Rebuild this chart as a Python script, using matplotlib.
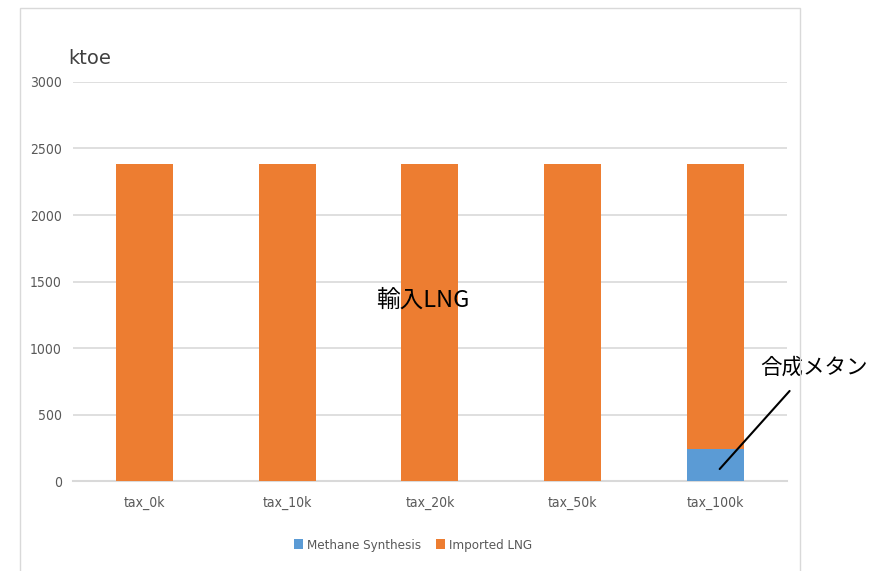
import matplotlib
matplotlib.use("Agg")
import matplotlib.pyplot as plt
from matplotlib.patches import Rectangle

plt.rcParams['font.family'] = ['Noto Sans CJK JP', 'DejaVu Sans']

# data (ktoe)
scenarios = ['tax_0k', 'tax_10k', 'tax_20k', 'tax_50k', 'tax_100k']
methane_synthesis = [0, 0, 0, 0, 240]
imported_lng = [2383, 2383, 2383, 2383, 2143]

blue = '#5B9BD5'
orange = '#ED7D31'
tick_col = '#595959'

fig = plt.figure(figsize=(8.9, 5.71), dpi=100)
ax = fig.add_axes([0.082, 0.1576, 0.802, 0.6988])

# chart border like the office chart frame
fig.patches.append(Rectangle((20 / 890, -0.01), 780 / 890, 1 - 8 / 571 + 0.01,
                             transform=fig.transFigure, fill=False,
                             edgecolor='#D9D9D9', linewidth=1.0))

x = range(len(scenarios))
ax.bar(x, methane_synthesis, width=0.4, color=blue, label='Methane Synthesis', zorder=3)
ax.bar(x, imported_lng, width=0.4, bottom=methane_synthesis, color=orange,
       label='Imported LNG', zorder=3)

ax.set_xlim(-0.5, len(scenarios) - 0.5)
ax.set_ylim(0, 3000)
ax.set_yticks(range(0, 3001, 500))
ax.set_xticks(list(x))
ax.set_xticklabels(scenarios)
ax.tick_params(axis='both', length=0, colors=tick_col, labelsize=10)
ax.tick_params(axis='x', pad=11)
ax.tick_params(axis='y', pad=8)
for lab in ax.get_xticklabels() + ax.get_yticklabels():
    lab.set_fontfamily(['DejaVu Sans'])
    lab.set_fontstretch('condensed')

ax.grid(axis='y', color='#D9D9D9', linewidth=1.2, zorder=0)
for s in ['top', 'right', 'left']:
    ax.spines[s].set_visible(False)
ax.spines['bottom'].set_color('#D9D9D9')
ax.spines['bottom'].set_linewidth(1.5)

fig.text(68 / 890, 1 - 58 / 571, 'ktoe', fontsize=14, color='#404040',
         va='center', ha='left', family=['DejaVu Sans'])

ax.text(1.95, 1361, '輸入LNG', fontsize=17, ha='center', va='center', zorder=5)
ax.text(4.69, 850, '合成メタン', fontsize=15.5, ha='center', va='center', zorder=5)
ax.annotate('', xy=(4.03, 90), xytext=(4.52, 677),
            arrowprops=dict(arrowstyle='-', color='black', lw=1.5,
                            shrinkA=0, shrinkB=0),
            annotation_clip=False, zorder=5)

leg = fig.legend(loc='center', bbox_to_anchor=(413 / 890, 1 - 545 / 571), ncol=2,
                 frameon=False, fontsize=9.5, handlelength=0.7, handleheight=0.7,
                 handletextpad=0.3, columnspacing=1.1)
for t in leg.get_texts():
    t.set_color(tick_col)
    t.set_fontfamily(['DejaVu Sans'])
    t.set_fontstretch('condensed')

fig.savefig('out.png', dpi=100)
